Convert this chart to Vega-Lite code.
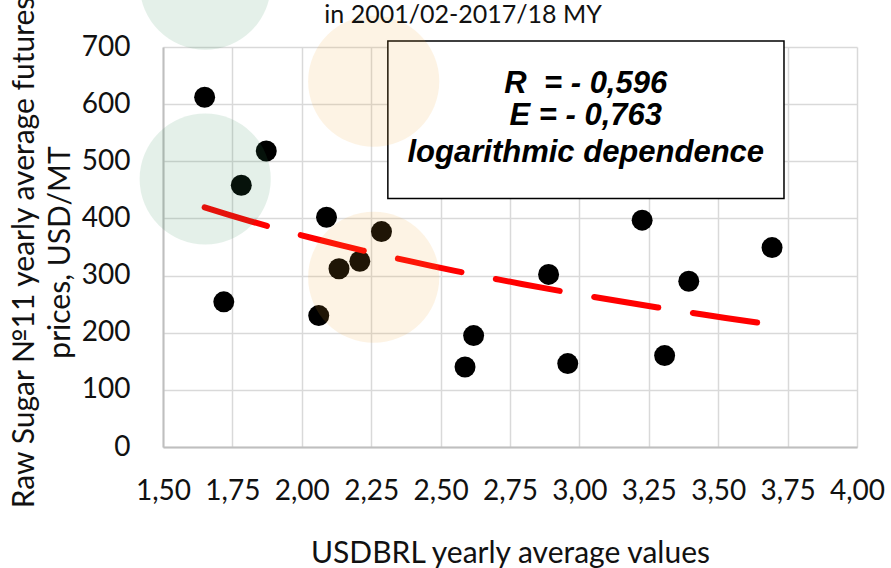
{
  "$schema": "https://vega.github.io/schema/vega-lite/v6.json",
  "autosize": {"type": "none"},
  "width": 694,
  "height": 400,
  "padding": {"left": 163, "top": 47, "right": 34, "bottom": 121},
  "background": "white",
  "title": {
    "text": "in 2001/02-2017/18 MY",
    "font": "Lato",
    "fontSize": 25,
    "fontWeight": "normal",
    "color": "#111111",
    "anchor": "middle",
    "frame": "group",
    "dx": -47,
    "baseline": "alphabetic",
    "offset": -129
  },
  "config": {
    "view": {"stroke": null},
    "axis": {
      "ticks": false,
      "domainColor": "#bfbfbf",
      "domainWidth": 2,
      "grid": true,
      "gridColor": "#d9d9d9",
      "gridWidth": 1.5,
      "labelFont": "Lato",
      "labelFontSize": 28,
      "labelColor": "#111111",
      "titleFont": "Lato",
      "titleFontSize": 30,
      "titleFontWeight": "normal",
      "titleColor": "#111111"
    }
  },
  "datasets": {
    "points": [
      {"usdbrl": 1.650, "price": 612},
      {"usdbrl": 1.719, "price": 254},
      {"usdbrl": 1.782, "price": 458},
      {"usdbrl": 1.872, "price": 518},
      {"usdbrl": 2.061, "price": 230},
      {"usdbrl": 2.089, "price": 402},
      {"usdbrl": 2.134, "price": 312},
      {"usdbrl": 2.209, "price": 325},
      {"usdbrl": 2.287, "price": 377},
      {"usdbrl": 2.588, "price": 140},
      {"usdbrl": 2.619, "price": 195},
      {"usdbrl": 2.889, "price": 302},
      {"usdbrl": 2.958, "price": 146},
      {"usdbrl": 3.226, "price": 397},
      {"usdbrl": 3.307, "price": 160},
      {"usdbrl": 3.394, "price": 290},
      {"usdbrl": 3.694, "price": 349}
    ],
    "box": [
      {"usdbrl": 2.31, "usdbrl_end": 3.737, "price": 435, "price_top": 710.7}
    ],
    "notes": [
      {"usdbrl": 3.023, "price": 618.7, "label": "R \u00a0= - 0,596"},
      {"usdbrl": 3.023, "price": 563.2, "label": "E = - 0,763"},
      {"usdbrl": 3.023, "price": 499, "label": "logarithmic dependence"}
    ],
    "decor": [
      {"usdbrl": 1.652, "price": 810, "tone": "green"},
      {"usdbrl": 1.652, "price": 469, "tone": "green"},
      {"usdbrl": 2.259, "price": 640, "tone": "orange"},
      {"usdbrl": 2.259, "price": 297, "tone": "orange"}
    ]
  },
  "encoding": {
    "x": {
      "field": "usdbrl",
      "type": "quantitative",
      "scale": {"domain": [1.5, 4], "nice": false, "zero": false},
      "axis": {
        "values": [1.5, 1.75, 2, 2.25, 2.5, 2.75, 3, 3.25, 3.5, 3.75, 4],
        "labelExpr": "replace(format(datum.value, '.2f'), '.', ',')",
        "labelFlush": false,
        "labelOverlap": false,
        "labelPadding": 30,
        "title": "USDBRL yearly average values",
        "titleY": 106,
        "titleBaseline": "middle"
      }
    },
    "y": {
      "field": "price",
      "type": "quantitative",
      "scale": {"domain": [0, 700], "nice": false, "zero": true},
      "axis": {
        "values": [0, 100, 200, 300, 400, 500, 600, 700],
        "labelPadding": 33,
        "labelFlush": false,
        "labelOverlap": false,
        "title": ["Raw Sugar №11 yearly average futures", "prices, USD/MT"],
        "titleX": -139,
        "titleY": 205,
        "titleAngle": -90,
        "titleAlign": "center",
        "titleBaseline": "middle",
        "titleLineHeight": 36
      }
    }
  },
  "layer": [
    {
      "data": {"name": "box"},
      "mark": {"type": "rect", "fill": "white", "stroke": "black", "strokeWidth": 1.5},
      "encoding": {
        "x2": {"field": "usdbrl_end"},
        "y2": {"field": "price_top"}
      }
    },
    {
      "data": {"name": "notes"},
      "mark": {"type": "text", "font": "Liberation Sans", "fontSize": 31, "fontStyle": "italic", "fontWeight": "bold", "align": "center", "baseline": "alphabetic", "color": "#000000"},
      "encoding": {"text": {"field": "label"}}
    },
    {
      "data": {"name": "points"},
      "mark": {"type": "circle", "size": 440, "color": "#000000", "opacity": 1},
      "encoding": {}
    },
    {
      "data": {"name": "points"},
      "transform": [{"regression": "price", "on": "usdbrl", "method": "log", "extent": [1.65, 3.69]}],
      "mark": {"type": "line", "color": "#ff0000", "strokeWidth": 6, "strokeCap": "round", "strokeDash": [65, 35]},
      "encoding": {}
    },
    {
      "data": {"name": "decor"},
      "mark": {"type": "circle", "size": 17200, "opacity": 0.13},
      "encoding": {
        "color": {"field": "tone", "type": "nominal", "scale": {"domain": ["green", "orange"], "range": ["#2b8a55", "#f0a032"]}, "legend": null}
      }
    }
  ]
}
